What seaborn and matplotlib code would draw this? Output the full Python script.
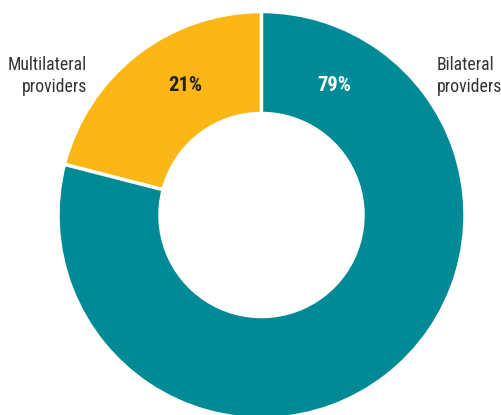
import matplotlib
matplotlib.use("Agg")
import matplotlib.pyplot as plt
import seaborn as sns
from matplotlib import font_manager

categories = ["Multilateral providers", "Bilateral providers"]
shares = [21, 79]
pct_labels = ["21%", "79%"]
colors = ["#FCB716", "#008A96"]

sns.set_theme(style="white")
names = {f.name for f in font_manager.fontManager.ttflist}
fam = "Roboto Condensed" if "Roboto Condensed" in names else "Liberation Sans"
plt.rcParams["font.family"] = [fam, "DejaVu Sans"]

fig = plt.figure(figsize=(5.01, 4.15), dpi=100)
ax = fig.add_axes([0, 0, 1, 1])
ax.pie(shares, colors=colors, startangle=90, counterclock=True,
       radius=203.5, center=(0, 0),
       wedgeprops=dict(width=102, edgecolor="white", linewidth=2.5))
ax.set_xlim(-261.5, 501 - 261.5)
ax.set_ylim(-200, 215)
ax.set_aspect("equal")
ax.axis("off")

ax.text(-76.5, 124, pct_labels[0], ha="center", va="baseline", fontsize=14.8,
        fontweight="bold", color="#231F20")
ax.text(73, 124, pct_labels[1], ha="center", va="baseline", fontsize=14.8,
        fontweight="bold", color="white")

label_lines = [c.split(" ") for c in categories]
fs = 12.7
ax.text(-174.5, 145, label_lines[0][0], ha="right", va="baseline",
        fontsize=fs, color="#333333")
ax.text(-174.5, 123, label_lines[0][1], ha="right", va="baseline",
        fontsize=fs, color="#333333")
ax.text(175.5, 145, label_lines[1][0], ha="left", va="baseline",
        fontsize=fs, color="#333333")
ax.text(175.5, 123, label_lines[1][1], ha="left", va="baseline",
        fontsize=fs, color="#333333")

fig.savefig("out.png", dpi=100)
